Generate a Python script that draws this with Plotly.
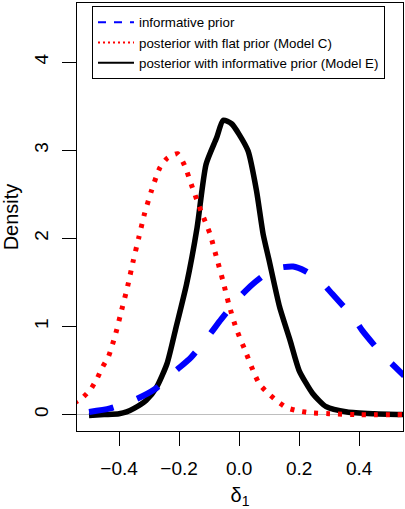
import plotly.graph_objects as go

# --- data ---
# posterior with informative prior (Model E)
x_modelE = [-0.50, -0.45, -0.40, -0.375, -0.35, -0.31, -0.275, -0.24, -0.21, -0.175, -0.14,
            -0.11, -0.075, -0.053, -0.025, 0.0, 0.03, 0.058, 0.08, 0.10, 0.135, 0.17, 0.20,
            0.245, 0.29, 0.36, 0.45, 0.55]
y_modelE = [-0.01, 0.0, 0.01, 0.03, 0.07, 0.16, 0.31, 0.58, 0.99, 1.48, 2.12,
            2.84, 3.14, 3.34, 3.30, 3.18, 2.99, 2.54, 2.05, 1.75, 1.22, 0.84, 0.50,
            0.24, 0.09, 0.03, 0.01, 0.0]

# posterior with flat prior (Model C)
x_modelC = [-0.55, -0.522, -0.494, -0.473, -0.455, -0.435, -0.411, -0.391, -0.371, -0.353,
            -0.334, -0.315, -0.292, -0.264, -0.239, -0.205, -0.182, -0.155, -0.127, -0.097,
            -0.075, -0.054, -0.034, -0.01, 0.021, 0.05, 0.069, 0.097, 0.128, 0.161, 0.20,
            0.24, 0.30, 0.40, 0.55]
y_modelC = [0.13, 0.19, 0.29, 0.41, 0.54, 0.66, 0.92, 1.19, 1.46, 1.74,
            2.01, 2.28, 2.54, 2.80, 2.91, 2.96, 2.83, 2.57, 2.31, 2.05,
            1.78, 1.52, 1.25, 0.98, 0.72, 0.47, 0.34, 0.24, 0.15, 0.075, 0.04,
            0.02, 0.01, 0.0, 0.0]

# informative prior
x_prior = [-0.50, -0.43, -0.34, -0.28, -0.21, -0.16, -0.10, -0.06, 0.0, 0.045, 0.09,
           0.125, 0.18, 0.22, 0.27, 0.31, 0.38, 0.41, 0.475, 0.52, 0.55]
y_prior = [0.03, 0.07, 0.18, 0.29, 0.50, 0.65, 0.90, 1.08, 1.33, 1.48, 1.60,
           1.66, 1.68, 1.63, 1.52, 1.37, 1.105, 0.955, 0.69, 0.54, 0.44]

legend_labels = ["informative prior",
                 "posterior with flat prior (Model C)",
                 "posterior with informative prior (Model E)"]

x_ticks = [-0.4, -0.2, 0.0, 0.2, 0.4]
x_ticktext = ["\u22120.4", "\u22120.2", "0.0", "0.2", "0.4"]
y_ticks = [0, 1, 2, 3, 4]

FONT = "Liberation Sans, Arial, Helvetica, sans-serif"

fig = go.Figure()

# data curves (no legend)
fig.add_trace(go.Scatter(x=x_modelE, y=y_modelE, mode="lines", showlegend=False,
                         line=dict(color="black", width=5.5, shape="spline", smoothing=0.6)))
fig.add_trace(go.Scatter(x=x_modelC, y=y_modelC, mode="lines", showlegend=False,
                         line=dict(color="#ff0000", width=5, dash="4px,8px",
                                   shape="spline", smoothing=0.6)))
fig.add_trace(go.Scatter(x=x_prior, y=y_prior, mode="lines", showlegend=False,
                         line=dict(color="#0000ff", width=6, dash="25px,25px",
                                   shape="spline", smoothing=0.6)))

# legend entries (thin sample lines, like the reference legend)
fig.add_trace(go.Scatter(x=[None], y=[None], mode="lines", name=legend_labels[0],
                         line=dict(color="#0000ff", width=2, dash="8px,8px")))
fig.add_trace(go.Scatter(x=[None], y=[None], mode="lines", name=legend_labels[1],
                         line=dict(color="#ff0000", width=2, dash="2px,3px")))
fig.add_trace(go.Scatter(x=[None], y=[None], mode="lines", name=legend_labels[2],
                         line=dict(color="black", width=2)))

fig.update_layout(
    width=405, height=509,
    margin=dict(l=77, r=2, t=3, b=78),
    paper_bgcolor="white", plot_bgcolor="white",
    font=dict(family=FONT, color="black", size=19),
    legend=dict(x=0.046, y=0.993, xanchor="left", yanchor="top",
                bgcolor="white", bordercolor="black", borderwidth=1,
                font=dict(size=13.3), traceorder="normal", itemwidth=36),
    xaxis=dict(range=[-0.54, 0.546], tickvals=x_ticks, ticktext=x_ticktext,
               ticks="outside", ticklen=14, tickwidth=1, tickcolor="black",
               showline=True, linecolor="black", linewidth=1, mirror=True,
               showgrid=False, zeroline=False, automargin=False,
               ticklabelstandoff=6,
               title=dict(text="\u03b4<sub>1</sub>", standoff=19, font=dict(size=20))),
    yaxis=dict(range=[-0.186, 4.67], tickvals=y_ticks,
               ticks="outside", ticklen=14, tickwidth=1, tickcolor="black",
               tickangle=-90,
               showline=True, linecolor="black", linewidth=1, mirror=True,
               showgrid=False, zeroline=True, zerolinecolor="#bebebe", zerolinewidth=1,
               automargin=False, ticklabelstandoff=6,
               title=dict(text="Density", standoff=10, font=dict(size=20))),
)

fig.write_html("out.html", config={"displayModeBar": False},
               post_script="document.body.style.margin='0px';document.body.style.overflow='hidden';")
